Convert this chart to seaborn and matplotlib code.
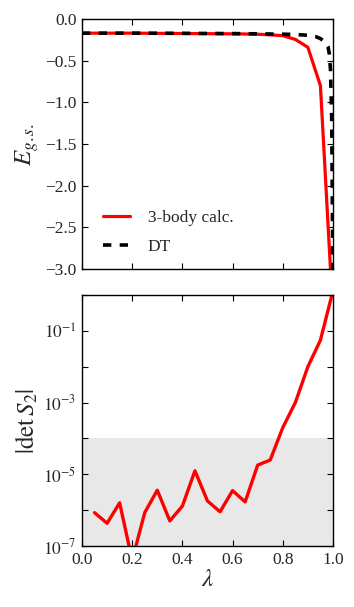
import numpy as np
import matplotlib
matplotlib.use("Agg")
import matplotlib.pyplot as plt
import seaborn as sns
from matplotlib.ticker import FixedLocator, FuncFormatter, NullLocator

# top panel: ground state energy
lam_3body = [0.0, 0.05, 0.1, 0.15, 0.2, 0.25, 0.3, 0.35, 0.4, 0.45, 0.5,
             0.55, 0.6, 0.65, 0.7, 0.75, 0.8, 0.85, 0.9, 0.95, 1.0]
e_3body = [-0.17, -0.17, -0.17, -0.17, -0.17, -0.171, -0.172, -0.173, -0.174, -0.175, -0.176,
           -0.177, -0.178, -0.18, -0.183, -0.19, -0.2, -0.245, -0.34, -0.8, -3.55]

lam_dt = [0.0, 0.2, 0.4, 0.6, 0.7, 0.8, 0.85, 0.9, 0.93, 0.95, 0.97, 0.98, 0.985, 0.99, 0.995, 1.0]
e_dt = [-0.17, -0.17, -0.172, -0.175, -0.178, -0.182, -0.186, -0.195, -0.21, -0.235, -0.28,
        -0.33, -0.41, -0.6, -1.2, -3.2]

# bottom panel: |det S2|
lam_det = [0.05, 0.1, 0.15, 0.2, 0.25, 0.3, 0.35, 0.4, 0.45, 0.5, 0.55, 0.6, 0.65,
           0.7, 0.75, 0.8, 0.85, 0.9, 0.95, 1.0]
det_s2 = [8.5e-7, 4.3e-7, 1.6e-6, 4e-8, 8.5e-7, 3.6e-6, 5e-7, 1.3e-6, 1.25e-5, 1.8e-6,
          9e-7, 3.5e-6, 1.7e-6, 1.8e-5, 2.5e-5, 2e-4, 1e-3, 1e-2, 5.5e-2, 1.3]

band_low, band_high = 1e-7, 1e-4

sns.set_style("ticks")
plt.rcParams['font.family'] = ['Liberation Serif', 'DejaVu Serif']
plt.rcParams['mathtext.fontset'] = 'stix'
plt.rcParams['xtick.direction'] = 'in'
plt.rcParams['ytick.direction'] = 'in'
plt.rcParams['xtick.top'] = True
plt.rcParams['ytick.right'] = True
plt.rcParams['lines.scale_dashes'] = False

fig = plt.figure(figsize=(3.54, 6.07), dpi=100)
ax1 = fig.add_axes([0.2316, 0.5568, 0.709, 0.4119])
ax2 = fig.add_axes([0.2316, 0.1005, 0.709, 0.4135])

for ax in (ax1, ax2):
    for s in ax.spines.values():
        s.set_color('black')
        s.set_linewidth(1.0)
    ax.tick_params(which='major', length=4, width=0.8, color='black',
                   labelsize=12.5, pad=4)

sns.lineplot(x=lam_3body, y=e_3body, ax=ax1, color='red', lw=2.3,
             label='3-body calc.', estimator=None, sort=False)
sns.lineplot(x=lam_dt, y=e_dt, ax=ax1, color='black', lw=2.6,
             label='DT', estimator=None, sort=False)
ax1.lines[1].set_dashes([6, 6])
ax1.set_xlim(0, 1)
ax1.set_ylim(-3.0, 0.0)
ax1.set_yticks(np.arange(-3.0, 0.01, 0.5))
ax1.set_yticklabels([f"{v:.1f}".replace('-', '\u2212') for v in np.arange(-3.0, 0.01, 0.5)])
ax1.set_xticks([0.0, 0.2, 0.4, 0.6, 0.8, 1.0])
ax1.tick_params(labelbottom=False)
ax1.set_ylabel(r'$E_{g.s.}$', fontsize=18, labelpad=3)
ax1.legend(loc='lower left', frameon=False, fontsize=12.5, handlelength=1.6,
           bbox_to_anchor=(0.02, -0.005), labelspacing=0.7, handletextpad=1.0)

ax2.axhspan(band_low, band_high, color='#e8e8e8', lw=0, zorder=0)
sns.lineplot(x=lam_det, y=det_s2, ax=ax2, color='red', lw=2.4,
             estimator=None, sort=False)
ax2.set_yscale('log')
ax2.set_xlim(0, 1)
ax2.set_ylim(1e-7, 1.0)
ax2.yaxis.set_major_locator(FixedLocator([10.0 ** k for k in range(-7, 1)]))
ax2.yaxis.set_minor_locator(NullLocator())


def odd_decades(v, pos):
    k = int(round(np.log10(v)))
    return r'$10^{%d}$' % k if k % 2 else ''


ax2.yaxis.set_major_formatter(FuncFormatter(odd_decades))
ax2.set_xticks([0.0, 0.2, 0.4, 0.6, 0.8, 1.0])
ax2.set_xticklabels(['0.0', '0.2', '0.4', '0.6', '0.8', '1.0'])
ax2.set_xlabel(r'$\lambda$', fontsize=18, labelpad=1)
ax2.set_ylabel(r'$|\mathrm{det}\, S_2|$', fontsize=18, labelpad=2)

fig.savefig('out.png', dpi=100)
